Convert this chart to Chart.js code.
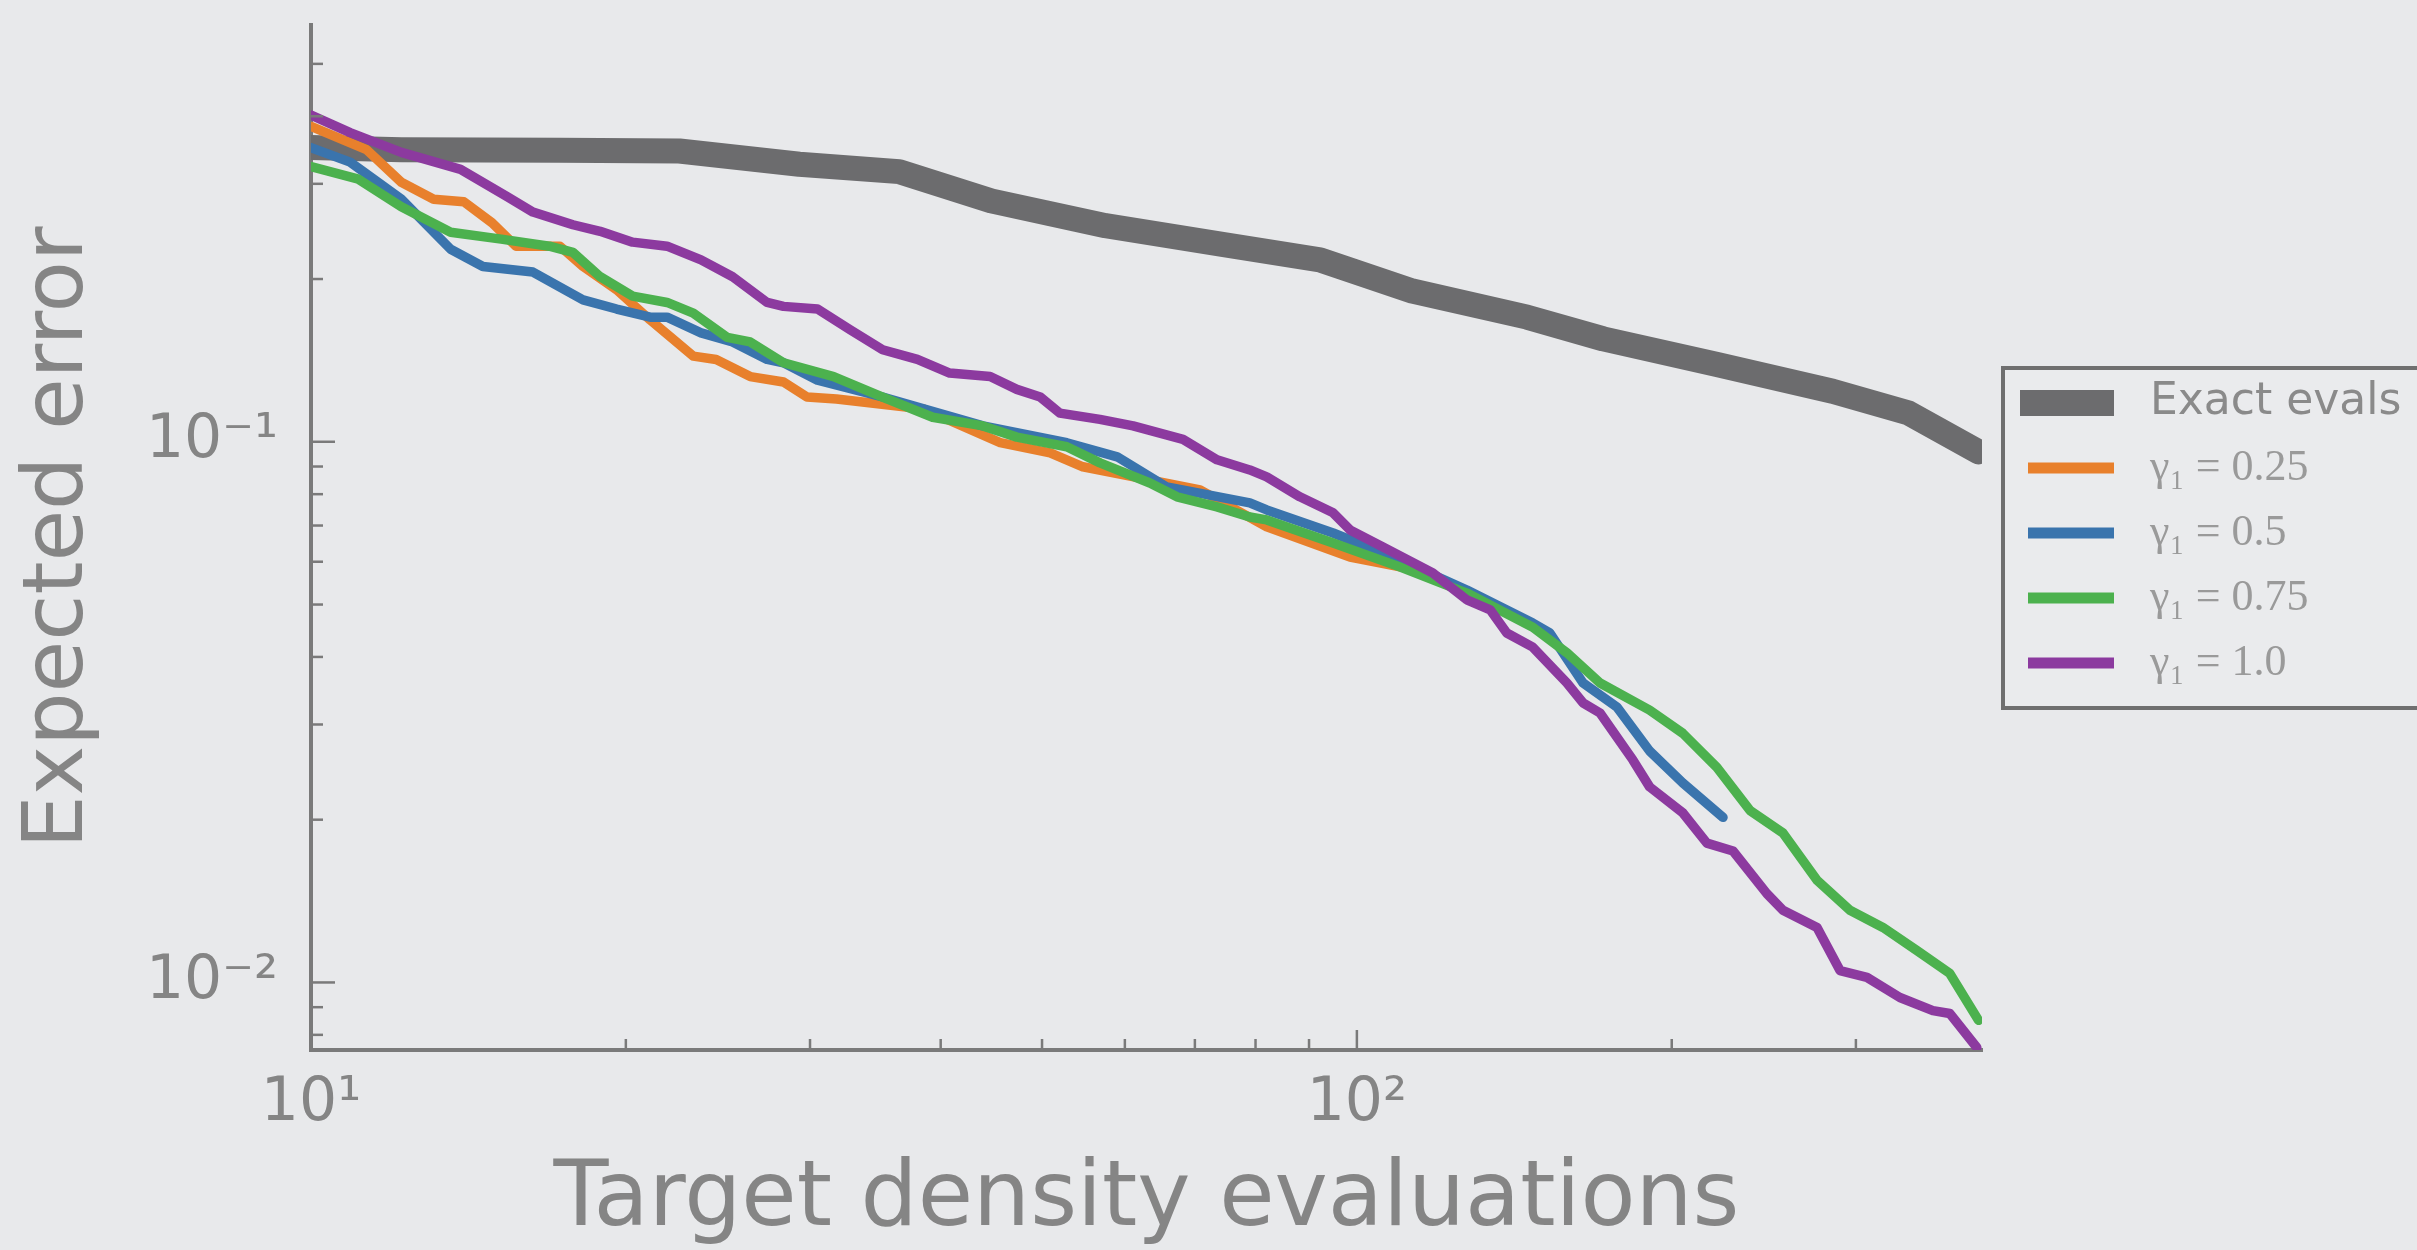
<!DOCTYPE html>
<html>
<head>
<meta charset="utf-8">
<script src="https://cdn.jsdelivr.net/npm/chart.js@4.4.1/dist/chart.umd.min.js"></script>
<style>
  html, body { margin: 0; padding: 0; background: #e8e9eb; overflow: hidden; }
  #wrap { width: 2417px; height: 1250px; }
</style>
</head>
<body>
<div id="wrap"><canvas id="errChart" width="2417" height="1250"></canvas></div>
<script>
// values (log-log axes)
const exactX = [10, 12.2, 17.3, 22.5, 29.3, 36.5, 44.7, 57.5, 74.1, 92.2, 113, 145.5, 172, 221, 285, 337, 393];
const exactY = [0.350, 0.347, 0.346, 0.345, 0.326, 0.316, 0.279, 0.251, 0.232, 0.217, 0.190, 0.170, 0.155, 0.139, 0.124, 0.113, 0.0958];

const g025X = [10, 11.3, 12.2, 13.1, 14.0, 14.9, 15.7, 17.3, 18.2, 19.6, 21.1, 23.2, 24.4, 26.3, 28.3, 29.8, 31.8, 38.5, 45.6, 50.9, 54.7, 70.8, 82.0, 98.5, 110];
const g025Y = [0.383, 0.347, 0.302, 0.281, 0.278, 0.254, 0.230, 0.230, 0.211, 0.191, 0.168, 0.144, 0.142, 0.132, 0.129, 0.121, 0.120, 0.115, 0.0996, 0.0954, 0.0899, 0.0815, 0.0696, 0.0612, 0.0587];

const g05X = [10, 10.9, 12.2, 13.6, 14.6, 16.3, 18.2, 19.6, 21.1, 21.9, 23.6, 25.3, 27.3, 28.3, 30.5, 35.2, 43.9, 52.8, 59.0, 65.8, 79.0, 82.0, 94.9, 109.9, 127.4, 147.3, 152.9, 164.5, 177.3, 190.5, 204.9, 223.9];
const g05Y = [0.350, 0.329, 0.281, 0.227, 0.211, 0.206, 0.183, 0.176, 0.170, 0.170, 0.159, 0.153, 0.142, 0.140, 0.130, 0.121, 0.107, 0.0996, 0.0938, 0.0825, 0.0771, 0.0748, 0.0678, 0.0605, 0.0532, 0.0462, 0.0443, 0.0358, 0.0323, 0.0268, 0.0234, 0.0202];

const g075X = [10, 11.1, 12.2, 13.6, 15.2, 16.9, 17.8, 18.9, 20.3, 21.9, 23.2, 25.0, 26.3, 28.3, 31.6, 35.2, 39.3, 43.9, 47.3, 52.8, 56.8, 63.4, 67.3, 73.5, 79.0, 82.0, 94.9, 109.9, 127.4, 147.3, 158.8, 170.8, 190.5, 204.9, 220.9, 237.6, 255.5, 275.4, 296.1, 318.4, 343.1, 368.9, 393];
const g075Y = [0.323, 0.306, 0.272, 0.244, 0.237, 0.230, 0.224, 0.202, 0.186, 0.181, 0.173, 0.156, 0.153, 0.140, 0.132, 0.121, 0.111, 0.107, 0.102, 0.0979, 0.0914, 0.0839, 0.0791, 0.0758, 0.0726, 0.0717, 0.0650, 0.0587, 0.0525, 0.0454, 0.0407, 0.0358, 0.0319, 0.0289, 0.0250, 0.0208, 0.0189, 0.01545, 0.0136, 0.01264, 0.01146, 0.01039, 0.00851];

const g10X = [10, 10.9, 12.2, 13.9, 15.4, 16.3, 17.8, 18.9, 20.3, 21.9, 23.6, 25.3, 27.3, 28.3, 30.5, 32.8, 35.2, 38.0, 40.8, 44.6, 47.3, 49.8, 52.0, 56.8, 61.1, 68.2, 73.5, 79.0, 82.0, 88.2, 94.9, 98.5, 105.9, 118.2, 127.4, 134.1, 139.1, 147.3, 158.8, 164.5, 170.8, 183.6, 190.5, 204.9, 216.1, 228.9, 246.6, 255.5, 275.4, 289.7, 307.4, 330.5, 355.4, 368.9, 391.5];
const g10Y = [0.402, 0.373, 0.343, 0.319, 0.284, 0.266, 0.252, 0.245, 0.234, 0.230, 0.217, 0.202, 0.181, 0.178, 0.176, 0.161, 0.148, 0.142, 0.134, 0.132, 0.125, 0.121, 0.113, 0.110, 0.107, 0.101, 0.0926, 0.0887, 0.0861, 0.0791, 0.0739, 0.0687, 0.0639, 0.0572, 0.0510, 0.0489, 0.0443, 0.0417, 0.0358, 0.0329, 0.0315, 0.0258, 0.0230, 0.0206, 0.0181, 0.0175, 0.0146, 0.0136, 0.01264, 0.01052, 0.01022, 0.00938, 0.00887, 0.00876, 0.00758];

const seriesNames = ['Exact evals', 'γ₁ = 0.25', 'γ₁ = 0.5', 'γ₁ = 0.75', 'γ₁ = 1.0'];

const xTickValues = [10, 100];
const xTickLabels = ['10¹', '10²'];
const yTickValues = [0.01, 0.1];
const yTickLabels = ['10⁻²', '10⁻¹'];
const xMinorTicks = [20, 30, 40, 50, 60, 70, 80, 90, 200, 300];
const yMinorTicks = [0.008, 0.009, 0.02, 0.03, 0.04, 0.05, 0.06, 0.07, 0.08, 0.09, 0.2, 0.3, 0.4, 0.5];

const textGray = '#858585';
const axisGray = '#7a7a7a';

function toPoints(xs, ys) {
  return xs.map((x, i) => ({ x: x, y: ys[i] }));
}

function lineSet(name, xs, ys, color, width, order) {
  return {
    label: name,
    data: toPoints(xs, ys),
    borderColor: color,
    backgroundColor: color,
    borderWidth: width,
    pointRadius: 0,
    tension: 0,
    fill: false,
    borderJoinStyle: 'round',
    borderCapStyle: 'round',
    order: order
  };
}

// inward tick marks like the original plot
const tickMarks = {
  id: 'tickMarks',
  afterDraw(chart) {
    const { ctx, chartArea, scales } = chart;
    ctx.save();
    ctx.strokeStyle = axisGray;
    ctx.lineWidth = 2.5;
    const xTick = (v, len) => {
      const px = scales.x.getPixelForValue(v);
      ctx.beginPath();
      ctx.moveTo(px, chartArea.bottom);
      ctx.lineTo(px, chartArea.bottom - len);
      ctx.stroke();
    };
    const yTick = (v, len) => {
      const py = scales.y.getPixelForValue(v);
      ctx.beginPath();
      ctx.moveTo(chartArea.left, py);
      ctx.lineTo(chartArea.left + len, py);
      ctx.stroke();
    };
    xMinorTicks.forEach(v => xTick(v, 11));
    xTickValues.forEach(v => xTick(v, 20));
    yMinorTicks.forEach(v => yTick(v, 12));
    yTickValues.forEach(v => yTick(v, 24));
    ctx.restore();
  }
};

// framed legend at the right, partly cut off by the page edge
const boxLegend = {
  id: 'boxLegend',
  afterDraw(chart) {
    const ctx = chart.ctx;
    const left = 2003, top = 368, bottom = 708;
    ctx.save();
    ctx.fillStyle = '#eaebed';
    ctx.fillRect(left, top, chart.width - left + 20, bottom - top);
    ctx.strokeStyle = '#6f6f6f';
    ctx.lineWidth = 4;
    ctx.strokeRect(left, top, chart.width - left + 20, bottom - top);

    chart.data.datasets.forEach((ds, row) => {
      const y = top + 35 + row * 65;
      ctx.strokeStyle = ds.borderColor;
      ctx.lineWidth = row === 0 ? 26 : 11;
      ctx.lineCap = 'butt';
      ctx.beginPath();
      ctx.moveTo(row === 0 ? 2020 : 2028, y);
      ctx.lineTo(2114, y);
      ctx.stroke();
      ctx.fillStyle = row === 0 ? '#8a8a8a' : '#9a9a9a';
      ctx.font = row === 0 ? '44px "DejaVu Sans"' : '44px "Liberation Serif", "DejaVu Serif", serif';
      ctx.textBaseline = 'middle';
      ctx.textAlign = 'left';
      ctx.fillText(ds.label, 2150, y);
    });
    ctx.restore();
  }
};

new Chart(document.getElementById('errChart'), {
  type: 'line',
  data: {
    datasets: [
      lineSet(seriesNames[0], exactX, exactY, '#6c6c6e', 25, 5),
      lineSet(seriesNames[1], g025X, g025Y, '#e8802c', 9.5, 4),
      lineSet(seriesNames[2], g05X, g05Y, '#3a74ad', 9.5, 3),
      lineSet(seriesNames[3], g075X, g075Y, '#4cb14e', 9.5, 2),
      lineSet(seriesNames[4], g10X, g10Y, '#8c3a9f', 9.5, 1)
    ]
  },
  options: {
    responsive: false,
    animation: false,
    devicePixelRatio: 1,
    layout: { padding: { left: 0, top: 25, right: 435, bottom: 0 } },
    plugins: {
      legend: { display: false },
      tooltip: { enabled: false }
    },
    scales: {
      x: {
        type: 'logarithmic',
        position: 'bottom',
        min: 10,
        max: 396,
        afterBuildTicks: (scale) => { scale.ticks = xTickValues.map(v => ({ value: v })); },
        afterFit: (scale) => {
          scale.height = 200;
          scale.paddingLeft = 0;
          scale.paddingRight = 0;
        },
        grid: { display: false, drawTicks: false },
        border: { display: true, color: axisGray, width: 4 },
        ticks: {
          padding: 18,
          color: textGray,
          font: { family: 'DejaVu Sans', size: 60 },
          maxRotation: 0,
          autoSkip: false,
          callback: (value) => {
            const i = xTickValues.indexOf(value);
            return i >= 0 ? xTickLabels[i] : '';
          }
        },
        title: {
          display: true,
          text: 'Target density evaluations',
          color: textGray,
          font: { family: 'DejaVu Sans', size: 90, lineHeight: 1.07 },
          padding: { top: 0, bottom: 0 }
        }
      },
      y: {
        type: 'logarithmic',
        position: 'left',
        min: 0.0075,
        max: 0.59,
        afterBuildTicks: (scale) => { scale.ticks = yTickValues.map(v => ({ value: v })); },
        afterFit: (scale) => {
          scale.width = 311;
          scale.paddingTop = 0;
          scale.paddingBottom = 0;
        },
        grid: { display: false, drawTicks: false },
        border: { display: true, color: axisGray, width: 4 },
        ticks: {
          padding: 33,
          color: textGray,
          font: { family: 'DejaVu Sans', size: 60 },
          autoSkip: false,
          callback: (value) => {
            const i = yTickValues.indexOf(value);
            return i >= 0 ? yTickLabels[i] : '';
          }
        },
        title: {
          display: true,
          text: 'Expected error',
          color: textGray,
          font: { family: 'DejaVu Sans', size: 84, lineHeight: 1.2 },
          padding: { top: 10, bottom: 0 }
        }
      }
    }
  },
  plugins: [tickMarks, boxLegend]
});
</script>
</body>
</html>
